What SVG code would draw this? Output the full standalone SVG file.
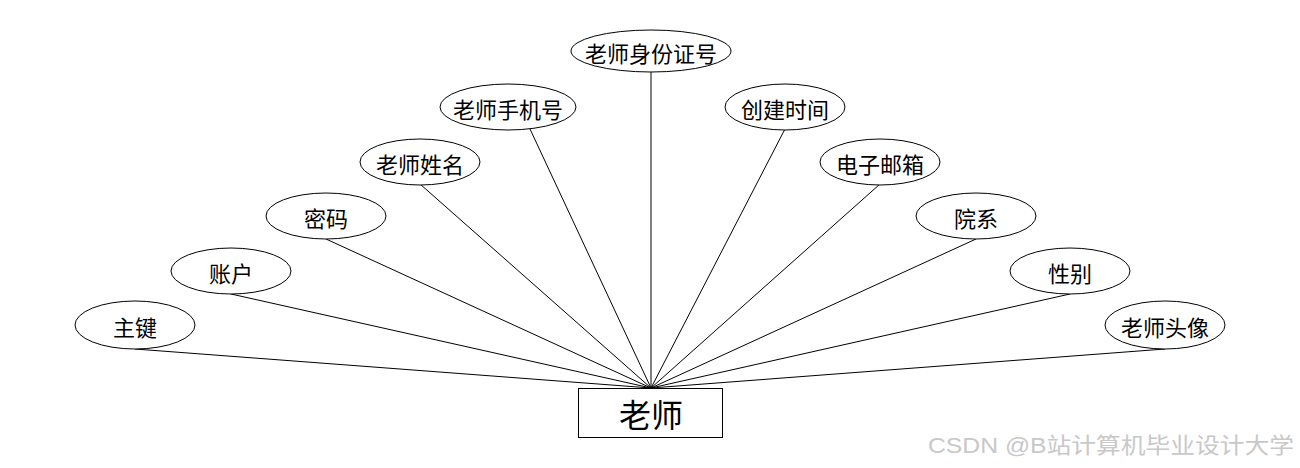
<svg xmlns="http://www.w3.org/2000/svg" width="1300" height="468" viewBox="0 0 1300 468">
<style>
.e{fill:#fff;stroke:#000;stroke-width:1}
.t{font-family:"Noto Sans CJK SC","Liberation Sans",sans-serif;font-size:22px;fill:#000;text-anchor:middle;dominant-baseline:central}
.c line{stroke:#000;stroke-width:1}
</style>
<rect width="1300" height="468" fill="#fff"/>
<g class="c" id="connectors">
<line x1="135" y1="349" x2="651" y2="388"/>
<line x1="231" y1="294" x2="651" y2="388"/>
<line x1="326" y1="239" x2="651" y2="388"/>
<line x1="420" y1="184" x2="651" y2="388"/>
<line x1="530" y1="129" x2="651" y2="388"/>
<line x1="651" y1="71" x2="651" y2="388"/>
<line x1="785" y1="129" x2="651" y2="388"/>
<line x1="880" y1="184" x2="651" y2="388"/>
<line x1="976" y1="239" x2="651" y2="388"/>
<line x1="1070" y1="294" x2="651" y2="388"/>
<line x1="1165" y1="349" x2="651" y2="388"/>
</g>
<g id="n-zhujian"><ellipse class="e" cx="135" cy="325" rx="60" ry="24"/><text class="t" x="135" y="326">主键</text></g>
<g id="n-zhanghu"><ellipse class="e" cx="231" cy="271" rx="60" ry="23"/><text class="t" x="231" y="272">账户</text></g>
<g id="n-mima"><ellipse class="e" cx="326" cy="216" rx="60" ry="23"/><text class="t" x="326" y="217">密码</text></g>
<g id="n-xingming"><ellipse class="e" cx="420" cy="162" rx="60" ry="23"/><text class="t" x="420" y="163">老师姓名</text></g>
<g id="n-shouji"><ellipse class="e" cx="508" cy="107" rx="68" ry="23"/><text class="t" x="508" y="108">老师手机号</text></g>
<g id="n-shenfen"><ellipse class="e" cx="651" cy="51" rx="80" ry="21"/><text class="t" x="651" y="52">老师身份证号</text></g>
<g id="n-chuangjian"><ellipse class="e" cx="785" cy="107" rx="60" ry="23"/><text class="t" x="785" y="108">创建时间</text></g>
<g id="n-youxiang"><ellipse class="e" cx="880" cy="162" rx="60" ry="23"/><text class="t" x="880" y="163">电子邮箱</text></g>
<g id="n-yuanxi"><ellipse class="e" cx="976" cy="216" rx="60" ry="23"/><text class="t" x="976" y="217">院系</text></g>
<g id="n-xingbie"><ellipse class="e" cx="1070" cy="271" rx="60" ry="23"/><text class="t" x="1070" y="272">性别</text></g>
<g id="n-touxiang"><ellipse class="e" cx="1165" cy="325" rx="60" ry="24"/><text class="t" x="1165" y="326">老师头像</text></g>
<g id="n-laoshi"><rect x="578.500" y="388.500" width="144" height="49" fill="#fff" stroke="#000"/><text class="t" x="651" y="413" style="font-size:32px">老师</text></g>
<text x="928" y="445" textLength="366" lengthAdjust="spacingAndGlyphs" style="font-family:'Liberation Sans','Noto Sans CJK SC',sans-serif;font-size:22px;fill:#c8c8c8;dominant-baseline:central">CSDN @B站计算机毕业设计大学</text>
</svg>
